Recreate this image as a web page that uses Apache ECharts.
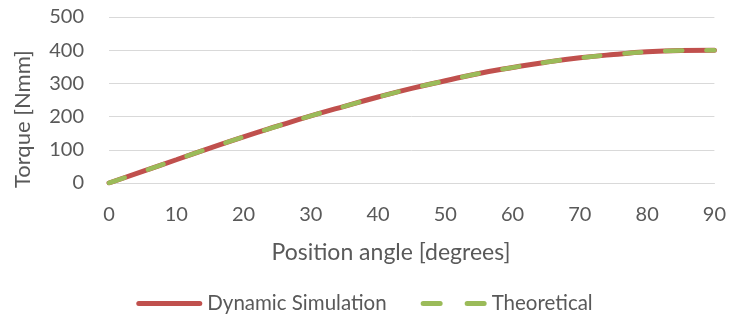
<!DOCTYPE html>
<html><head><meta charset="utf-8">
<script src="https://cdn.jsdelivr.net/npm/echarts@6/dist/echarts.min.js"></script>
<style>html,body{margin:0;padding:0;background:#fff}#c{width:729px;height:321px}</style>
</head><body><div id="c"></div>
<script>
const angles = [0,5,10,15,20,25,30,35,40,45,50,55,60,65,70,75,80,85,90];
const dynamicSim = [0,35,70,105,139,171,202,231,259,285,308,330,348,364,377,387,395,399,400];
const theoretical = [0,35,70,105,139,171,202,231,259,285,308,330,348,364,377,387,395,399,400];
const seriesNames = ['Dynamic Simulation','Theoretical'];
const xTitle = 'Position angle [degrees]';
const yTitle = 'Torque [Nmm]';

const font = 'Lato';
const txt = '#595959';
const chart = echarts.init(document.getElementById('c'));
chart.setOption({
  animation:false,
  textStyle:{fontFamily:font},
  grid:{left:109,right:13,top:17,bottom:138},
  xAxis:{type:'value',min:0,max:90,interval:10,
    axisLine:{show:true,lineStyle:{color:'#d9d9d9',width:1}},
    axisTick:{show:false},splitLine:{show:false},
    axisLabel:{color:txt,fontSize:20,fontFamily:font,margin:22}},
  yAxis:{type:'value',min:0,max:500,interval:100,
    axisLine:{show:false},axisTick:{show:false},
    splitLine:{lineStyle:{color:'#d9d9d9',width:1}},
    axisLabel:{color:txt,fontSize:20,fontFamily:font,margin:25}},
  legend:{bottom:2,left:'center',itemWidth:66,itemHeight:5,itemGap:34,
    textStyle:{color:txt,fontSize:20.5,fontFamily:font},
    data:[
      {name:seriesNames[0],icon:'path://M2.5,0h61a2.5,2.5 0 0 1 0,5h-61a2.5,2.5 0 0 1 0,-5z'},
      {name:seriesNames[1],icon:'path://M2.5,0h17a2.5,2.5 0 0 1 0,5h-17a2.5,2.5 0 0 1 0,-5z M46.5,0h17a2.5,2.5 0 0 1 0,5h-17a2.5,2.5 0 0 1 0,-5z'}
    ]},
  graphic:[
    {type:'text',x:391,y:241,style:{text:xTitle,fill:txt,font:'23px '+font,align:'center'}},
    {type:'text',rotation:Math.PI/2,x:12,y:188,style:{text:yTitle,fill:txt,font:'22px '+font}}
  ],
  series:[
    {name:seriesNames[0],type:'line',smooth:true,showSymbol:false,symbol:'none',
     data:angles.map((a,i)=>[a,dynamicSim[i]]),
     lineStyle:{color:'#C0504D',width:5,cap:'round'},itemStyle:{color:'#C0504D'}},
    {name:seriesNames[1],type:'line',smooth:true,showSymbol:false,symbol:'none',
     data:angles.map((a,i)=>[a,theoretical[i]]),
     lineStyle:{color:'#9BBB59',width:4.5,type:[17,24],cap:'round'},itemStyle:{color:'#9BBB59'}}
  ]
});
</script></body></html>
